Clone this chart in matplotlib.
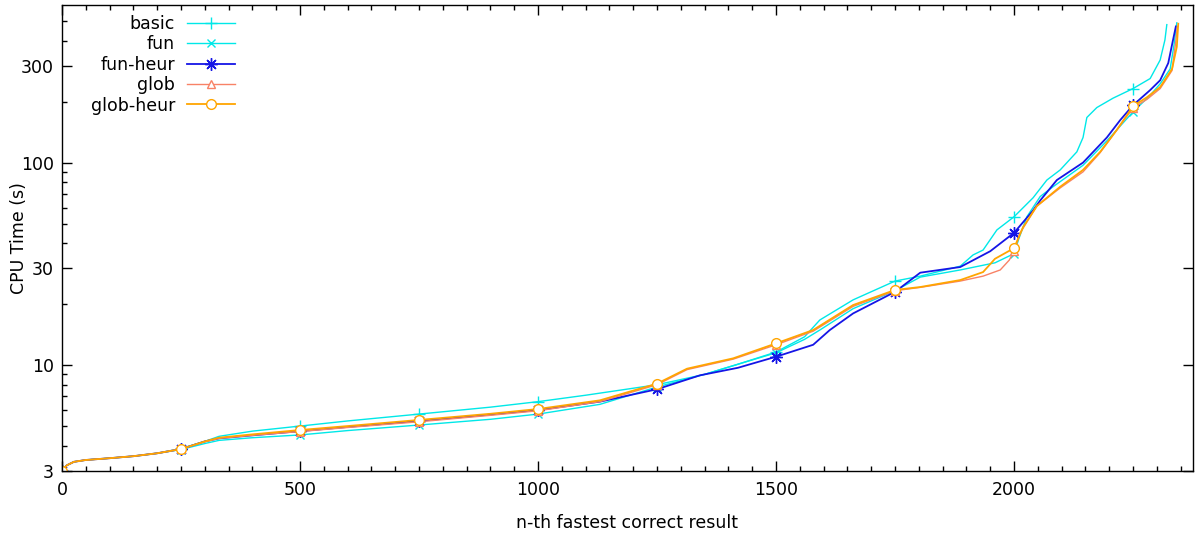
import matplotlib
matplotlib.use("Agg")
import matplotlib.pyplot as plt
from matplotlib.ticker import FixedLocator, NullFormatter

# ---- data ----
basic_x = [0, 10, 25, 50, 100, 150, 200, 250, 300, 330, 400, 500, 600, 750, 900, 1000, 1100, 1250, 1350, 1420,
           1500, 1560, 1592, 1662, 1750, 1803, 1887, 1914, 1935, 1964, 2000, 2040, 2069, 2097, 2132, 2145, 2153,
           2174, 2208, 2250, 2286, 2307, 2317, 2321]
basic_y = [3.0, 3.2, 3.33, 3.40, 3.47, 3.55, 3.67, 3.87, 4.2, 4.45, 4.72, 5.0, 5.3, 5.73, 6.2, 6.6, 7.1, 8.0, 9.0, 10.1,
           11.6, 13.8, 16.7, 21.0, 26.0, 27.5, 30.8, 35.0, 37.0, 46.5, 54.0, 67.0, 82.0, 92.0, 113, 133, 167,
           187, 208, 232, 260, 321, 403, 480]

fun_x = [0, 10, 25, 50, 100, 150, 200, 250, 300, 330, 400, 500, 600, 750, 900, 1000, 1130, 1250, 1350, 1420,
         1500, 1560, 1592, 1662, 1750, 1803, 1887, 1960, 2000, 2010, 2027, 2055, 2082, 2145, 2195, 2250, 2286,
         2307, 2328, 2336, 2342]
fun_y = [3.0, 3.2, 3.33, 3.40, 3.47, 3.55, 3.67, 3.83, 4.1, 4.25, 4.38, 4.52, 4.75, 5.06, 5.4, 5.73, 6.4, 7.8, 9.0, 10.1,
         11.5, 13.4, 14.9, 19.0, 23.3, 27.2, 29.5, 32.0, 35.5, 42.0, 54.0, 68.0, 76.0, 97.0, 128, 178, 215,
         245, 290, 380, 490]

funheur_x = [0, 10, 25, 50, 100, 150, 200, 250, 300, 330, 400, 500, 600, 750, 900, 1000, 1130, 1250, 1340, 1420,
             1500, 1578, 1613, 1662, 1750, 1803, 1887, 1950, 2000, 2040, 2055, 2090, 2145, 2195, 2223, 2250, 2286,
             2307, 2324, 2334, 2340]
funheur_y = [3.0, 3.2, 3.33, 3.40, 3.47, 3.55, 3.67, 3.85, 4.2, 4.35, 4.5, 4.72, 4.95, 5.3, 5.7, 6.0, 6.6, 7.6, 8.9, 9.7,
             11.0, 12.6, 14.9, 18.0, 23.0, 28.6, 30.5, 36.5, 45.0, 58.0, 65.0, 82.0, 100, 133, 162, 192, 228,
             255, 310, 403, 470]

glob_x = [0, 10, 25, 50, 100, 150, 200, 250, 300, 330, 400, 500, 600, 750, 900, 1000, 1130, 1250, 1313, 1410,
          1500, 1578, 1662, 1750, 1803, 1887, 1935, 1971, 1990, 2000, 2013, 2048, 2097, 2145, 2181, 2216, 2250,
          2279, 2307, 2332, 2340, 2343]
glob_y = [3.0, 3.2, 3.33, 3.40, 3.47, 3.55, 3.67, 3.85, 4.18, 4.35, 4.5, 4.7, 4.92, 5.25, 5.65, 5.95, 6.6, 8.0, 9.5, 10.7,
          12.6, 14.7, 19.5, 23.3, 24.2, 26.0, 27.5, 29.5, 33.0, 36.5, 45.0, 61.0, 75.0, 90.0, 112, 145, 186,
          205, 232, 285, 400, 470]

globheur_x = [0, 10, 25, 50, 100, 150, 200, 250, 300, 330, 400, 500, 600, 750, 900, 1000, 1130, 1250, 1313, 1410,
              1500, 1578, 1662, 1750, 1803, 1887, 1935, 1960, 2000, 2019, 2048, 2097, 2145, 2181, 2216, 2250, 2279,
              2307, 2332, 2342, 2345]
globheur_y = [3.0, 3.2, 3.33, 3.40, 3.47, 3.55, 3.67, 3.85, 4.2, 4.38, 4.55, 4.78, 5.0, 5.36, 5.75, 6.07, 6.7, 8.1, 9.6, 10.8,
              12.8, 14.9, 19.8, 23.5, 24.3, 26.3, 28.8, 33.5, 37.8, 48.0, 61.0, 76.0, 92.0, 113, 145, 190, 210,
              236, 290, 373, 485]

labels = ["basic", "fun", "fun-heur", "glob", "glob-heur"]
x_major = [0, 500, 1000, 1500, 2000]
y_major = [3, 10, 30, 100, 300]
y_major_labels = ["3", "10", "30", "100", "300"]
y_minor = [4, 5, 6, 7, 8, 9, 20, 40, 50, 60, 70, 80, 90, 200, 400, 500]

series = [
    (basic_x, basic_y, dict(color="#00e8e8", lw=1.0, marker="+", ms=8, mew=1.0, mfc="none")),
    (fun_x, fun_y, dict(color="#00e8e8", lw=1.0, marker="x", ms=6, mew=1.0, mfc="none")),
    (funheur_x, funheur_y, dict(color="#1515e6", lw=1.3, marker=(8, 2, 0), ms=9, mew=1.0, mfc="none")),
    (glob_x, glob_y, dict(color="#f88266", lw=1.0, marker="^", ms=6, mew=1.0, mfc="white")),
    (globheur_x, globheur_y, dict(color="#ffa500", lw=1.3, marker="o", ms=7, mew=1.0, mfc="white")),
]

FS = 12.5
plt.rcParams["font.family"] = ["DejaVu Sans"]
fig = plt.figure(figsize=(11.96, 5.33), dpi=100)
ax = fig.add_axes([62 / 1196, 62 / 533, (1193 - 62) / 1196, (471 - 5) / 533])

for (xs, ys, st), lab in zip(series, labels):
    me = [i for i, x in enumerate(xs) if x % 250 == 0]
    ax.plot(xs, ys, label=lab, markevery=me, **st)

ax.set_yscale("log")
ax.set_xlim(0, 2376)
ax.set_ylim(3, 600)

ax.xaxis.set_major_locator(FixedLocator(x_major))
ax.xaxis.set_minor_locator(FixedLocator(list(range(0, 2376, 50))))
ax.yaxis.set_major_locator(FixedLocator(y_major))
ax.set_yticklabels(y_major_labels)
ax.yaxis.set_minor_locator(FixedLocator(y_minor))
ax.yaxis.set_minor_formatter(NullFormatter())

ax.tick_params(which="both", direction="in", top=True, right=True, labelsize=FS, width=1, colors="black")
ax.tick_params(which="major", length=7)
ax.tick_params(which="minor", length=3.5)
ax.tick_params(axis="y", which="minor", right=False)
ax.tick_params(axis="x", which="major", pad=7)
ax.tick_params(axis="y", which="major", pad=6)

for s in ax.spines.values():
    s.set_linewidth(1.0)

ax.set_xlabel("n-th fastest correct result", fontsize=FS, labelpad=11)
ax.set_ylabel("CPU Time (s)", fontsize=FS)
ax.yaxis.set_label_coords(-0.030, 0.5)

leg = ax.legend(loc="upper left", bbox_to_anchor=(0.0255, 0.979), frameon=False, fontsize=FS,
                markerfirst=False, handlelength=2.8, handletextpad=0.65, labelspacing=0.14,
                borderaxespad=0, borderpad=0)
try:
    vp = leg._legend_box._children[-1]._children[0]
    vp.align = "right"
except Exception:
    pass

fig.savefig("out.png", dpi=100)
